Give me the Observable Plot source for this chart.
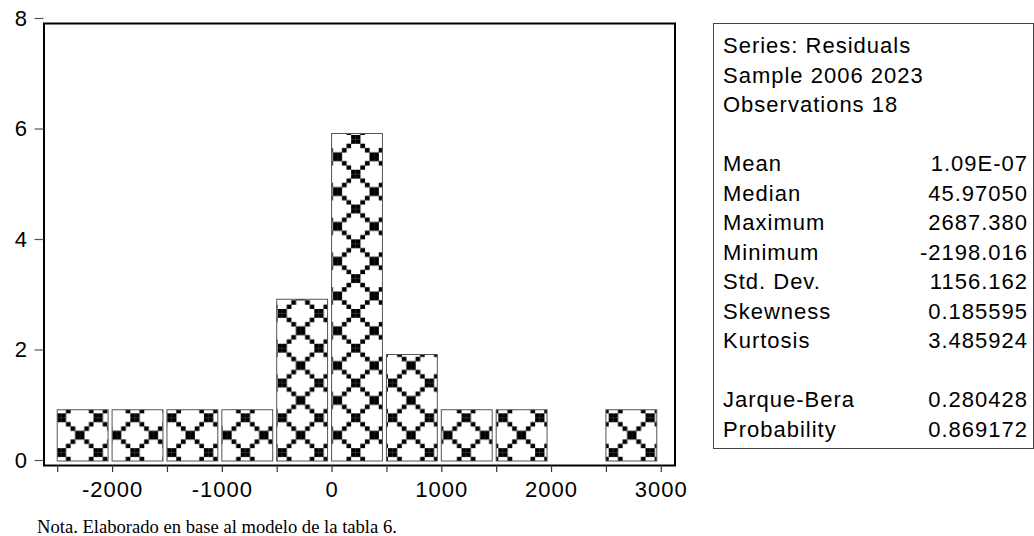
<!DOCTYPE html>
<html><head><meta charset="utf-8">
<script src="https://cdn.jsdelivr.net/npm/d3@7"></script>
<script src="https://cdn.jsdelivr.net/npm/@observablehq/plot@0.6"></script>
<style>
html,body{margin:0;padding:0;background:#fff;}
#wrap{position:relative;width:1034px;height:536px;overflow:hidden;background:#fff;}
#chart{position:absolute;left:0;top:0;}
#stats{position:absolute;left:713px;top:23px;width:321px;height:426px;box-sizing:border-box;border:1px solid #444;padding:7px 5px 0 9px;font-family:"Liberation Sans",Arial,sans-serif;font-size:22px;letter-spacing:1px;color:#000;}
.row{display:flex;justify-content:space-between;height:29.5px;line-height:29.5px;white-space:pre;}
#note{position:absolute;left:37px;top:516px;font-family:"Liberation Serif","Times New Roman",serif;font-size:18.6px;line-height:21px;color:#000;white-space:pre;}
</style></head><body>
<div id="wrap"><div id="chart"></div><div id="stats"></div><div id="note"></div></div>
<script>
// ---- data ----
const binStart = [-2500, -2000, -1500, -1000, -500, 0, 500, 1000, 1500, 2000, 2500];
const binEnd   = [-2000, -1500, -1000, -500, 0, 500, 1000, 1500, 2000, 2500, 3000];
const counts   = [1, 1, 1, 1, 3, 6, 2, 1, 1, 0, 1];
const xTicks   = [-2500, -2000, -1500, -1000, -500, 0, 500, 1000, 1500, 2000, 2500, 3000];
const xLabels  = [-2000, -1000, 0, 1000, 2000, 3000];
const yTicks   = [0, 2, 4, 6, 8];
const headerLines = ["Series: Residuals", "Sample 2006 2023", "Observations 18"];
const statNames  = ["Mean", "Median", "Maximum", "Minimum", "Std. Dev.", "Skewness", "Kurtosis"];
const statValues = ["1.09E-07", "45.97050", "2687.380", "-2198.016", "1156.162", "0.185595", "3.485924"];
const testNames  = ["Jarque-Bera", "Probability"];
const testValues = ["0.280428", "0.869172"];
const noteText = "Nota. Elaborado en base al modelo de la tabla 6.";

// ---- chart ----
const bins = binStart.map((s, i) => ({lo: s, hi: binEnd[i], base: 0, n: counts[i]})).filter(d => d.n > 0);

const plot = Plot.plot({
  width: 1034, height: 505,
  marginLeft: 43.5, marginRight: 359.5, marginTop: 23, marginBottom: 40,
  style: {fontFamily: '"Liberation Sans", Arial, sans-serif', fontSize: "22px", letterSpacing: "1px", background: "white", color: "black", overflow: "visible"},
  x: {domain: [-2625, 3125]},
  y: {domain: [0, 8]},
  marks: [
    Plot.rect(bins, {x1: "lo", x2: "hi", y1: "base", y2: "n", fill: "url(#evPat)", stroke: "#555", strokeWidth: 1, insetRight: 4, insetBottom: 4}),
    Plot.frame({stroke: "black", strokeWidth: 2}),
    Plot.axisX(xTicks, {tickSize: 7, tickPadding: 9, tickFormat: d => xLabels.includes(d) ? String(d) : "", label: null, color: "black", stroke: "#333", strokeWidth: 1.2}),
    Plot.axisY(yTicks, {tickSize: 9, tickPadding: 7, dy: -5, tickFormat: d => String(d), label: null, color: "black", stroke: "#555", strokeWidth: 1.2})
  ]
});
const svg = plot.tagName.toLowerCase() === "svg" ? plot : plot.querySelector("svg");
document.getElementById("chart").appendChild(plot);

// pattern (EViews-style 8x8 hatch brush), anchored to the scales
const xs = plot.scale("x"), ys = plot.scale("y");
const Px = 36.8, Py = 34.8, cw = Px / 8, ch = Py / 8;
const ox = xs.apply(binStart[0]) + 4.1 - cw;
const oy = ys.apply(0) - 12.5 - ch;
const brush = ["XX......", "XX......", "..X....X", "...X..X.", "....XX..", "....XX..", "...X..X.", "..X....X"];
let cells = "";
brush.forEach((row, r) => [...row].forEach((c, k) => {
  if (c === "X") cells += `<rect x="${k * cw}" y="${r * ch}" width="${cw + 0.15}" height="${ch + 0.15}" fill="black"/>`;
}));
svg.insertAdjacentHTML("afterbegin",
  `<defs><pattern id="evPat" patternUnits="userSpaceOnUse" x="${ox}" y="${oy}" width="${Px}" height="${Py}"><rect width="${Px}" height="${Py}" fill="white"/>${cells}</pattern></defs>`);

// ---- stats box ----
const stats = document.getElementById("stats");
function addRow(a, b) {
  const d = document.createElement("div");
  d.className = "row";
  const l = document.createElement("span"); l.textContent = a;
  const r = document.createElement("span"); r.textContent = b;
  d.appendChild(l); d.appendChild(r);
  stats.appendChild(d);
}
headerLines.forEach(h => addRow(h, ""));
addRow(" ", "");
statNames.forEach((n, i) => addRow(n, statValues[i]));
addRow(" ", "");
testNames.forEach((n, i) => addRow(n, testValues[i]));

document.getElementById("note").textContent = noteText;
</script>
</body></html>
